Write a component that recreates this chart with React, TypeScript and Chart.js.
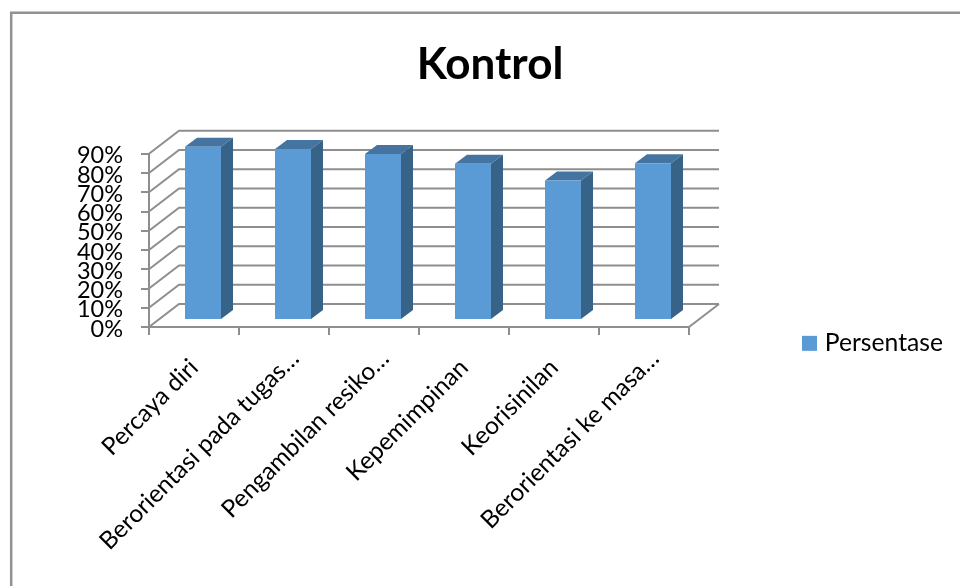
import React, { useEffect, useRef } from "react";
import { Chart, registerables } from "chart.js";

Chart.register(...registerables);

const categories = [
  "Percaya diri",
  "Berorientasi pada tugas…",
  "Pengambilan resiko…",
  "Kepemimpinan",
  "Keorisinilan",
  "Berorientasi ke masa…",
];
const persentase = [90, 88.8, 86.3, 81.2, 72.5, 81.5];
const yTicksStep = 10;
const yMax = 90;

const FONT = "Lato, 'Noto Sans', sans-serif";
const LINE = "#8e8e8e";
const FRONT = "#5b9bd5";
const SIDE = "#386389";
const TOP = "#4674a0";

// Offset of the rear wall, of the bars' front plane, and the depth of each bar.
const WALL = { dx: 30, dy: -23 };
const BAR_SHIFT = { dx: 9, dy: -7 };
const BAR_DEPTH = { dx: 12, dy: -9 };
// Shortened category names sit a little further along their slant.
const ELLIPSIS_SHIFT = { dx: 11, dy: -9 };

const frameAndWalls = {
  id: "frameAndWalls",
  beforeDraw(chart: any) {
    const { ctx, scales, chartArea } = chart;
    const yScale = scales.y;
    ctx.save();
    // Outer chart frame: top and left edges
    ctx.strokeStyle = "#929292";
    ctx.lineWidth = 2.5;
    ctx.beginPath();
    ctx.moveTo(11.2, 586);
    ctx.lineTo(11.2, 12.8);
    ctx.lineTo(960, 12.8);
    ctx.stroke();

    // Side wall diagonals and rear wall rules
    ctx.strokeStyle = LINE;
    ctx.lineWidth = 2;
    for (let v = 0; v <= yMax; v += yTicksStep) {
      const py = yScale.getPixelForValue(v);
      ctx.beginPath();
      ctx.moveTo(chartArea.left, py);
      ctx.lineTo(chartArea.left + WALL.dx, py + WALL.dy);
      ctx.lineTo(chartArea.right + WALL.dx, py + WALL.dy);
      ctx.stroke();
    }
    // Right edge of the floor
    ctx.beginPath();
    ctx.moveTo(chartArea.right, chartArea.bottom);
    ctx.lineTo(chartArea.right + WALL.dx, chartArea.bottom + WALL.dy);
    ctx.stroke();
    ctx.restore();
  },
};

const extrudedBars = {
  id: "extrudedBars",
  beforeDatasetsDraw(chart: any) {
    const { ctx } = chart;
    ctx.save();
    ctx.translate(BAR_SHIFT.dx, BAR_SHIFT.dy);
    chart.getDatasetMeta(0).data.forEach((bar: any) => {
      const left = bar.x - bar.width / 2;
      const right = bar.x + bar.width / 2;
      ctx.fillStyle = TOP;
      ctx.beginPath();
      ctx.moveTo(left, bar.y);
      ctx.lineTo(left + BAR_DEPTH.dx, bar.y + BAR_DEPTH.dy);
      ctx.lineTo(right + BAR_DEPTH.dx, bar.y + BAR_DEPTH.dy);
      ctx.lineTo(right, bar.y);
      ctx.closePath();
      ctx.fill();
      ctx.fillStyle = SIDE;
      ctx.beginPath();
      ctx.moveTo(right, bar.y);
      ctx.lineTo(right + BAR_DEPTH.dx, bar.y + BAR_DEPTH.dy);
      ctx.lineTo(right + BAR_DEPTH.dx, bar.base + BAR_DEPTH.dy);
      ctx.lineTo(right, bar.base);
      ctx.closePath();
      ctx.fill();
    });
  },
  afterDatasetsDraw(chart: any) {
    chart.ctx.restore();
  },
};

// Places the title and the legend in the free space beside the plot.
const placeBlocks = {
  id: "placeBlocks",
  afterLayout(chart: any) {
    const title = chart.titleBlock;
    title.left = 20;
    title.right = 960;
    title.width = 940;
    const legend = chart.legend;
    legend.left = 802;
    legend.right = 943;
    legend.width = 141;
    legend.top = 331;
    legend.bottom = 361;
    legend.height = 30;

    chart.scales.x.getLabelItems(chart.chartArea).forEach((item: any) => {
      if (String(item.label).endsWith("…")) {
        item.options.translation[0] += ELLIPSIS_SHIFT.dx;
        item.options.translation[1] += ELLIPSIS_SHIFT.dy;
      }
    });
  },
};

export default function App() {
  const ref = useRef<HTMLCanvasElement>(null);

  useEffect(() => {
    const chart = new Chart(ref.current as HTMLCanvasElement, {
      type: "bar",
      data: {
        labels: categories,
        datasets: [
          {
            label: "Persentase",
            data: persentase,
            backgroundColor: FRONT,
            barPercentage: 0.4,
            categoryPercentage: 1,
            clip: false,
          } as any,
        ],
      },
      plugins: [frameAndWalls, extrudedBars, placeBlocks],
      options: {
        responsive: false,
        animation: false,
        layout: { padding: { left: 0, top: 0, right: 271, bottom: 0 } },
        plugins: {
          tooltip: { enabled: false },
          title: {
            display: true,
            text: "Kontrol",
            color: "#000000",
            font: { family: FONT, size: 44, weight: "bold", lineHeight: 1.2 },
            padding: { top: 38, bottom: 63 },
          },
          legend: {
            position: "chartArea" as any,
            align: "start",
            labels: {
              color: "#000000",
              font: { family: FONT, size: 24.7 },
              boxWidth: 15,
              boxHeight: 15,
              padding: 0,
              textAlign: "right",
            },
          },
        },
        scales: {
          x: {
            afterFit: (s: any) => {
              s.height = 259;
            },
            border: { color: LINE, width: 2 },
            grid: { drawOnChartArea: false, color: LINE, lineWidth: 2, tickLength: 8 },
            ticks: {
              color: "#000000",
              font: { family: FONT, size: 24.5 },
              minRotation: 45,
              maxRotation: 45,
              autoSkip: false,
              padding: 18,
            },
          },
          y: {
            min: 0,
            max: yMax,
            afterFit: (s: any) => {
              s.width = 149;
            },
            border: { color: LINE, width: 2 },
            grid: { drawOnChartArea: false, color: LINE, lineWidth: 2, tickLength: 8 },
            ticks: {
              stepSize: yTicksStep,
              autoSkip: false,
              color: "#000000",
              font: { family: FONT, size: 23.5 },
              padding: 18,
              labelOffset: 2,
              callback: (v: any) => `${v}%`,
            },
          },
        },
      },
    });
    return () => chart.destroy();
  }, []);

  return (
    <div style={{ position: "fixed", left: 0, top: 0, width: 960, height: 586, background: "#fff" }}>
      <canvas ref={ref} width={960} height={586} style={{ display: "block" }} />
    </div>
  );
}
